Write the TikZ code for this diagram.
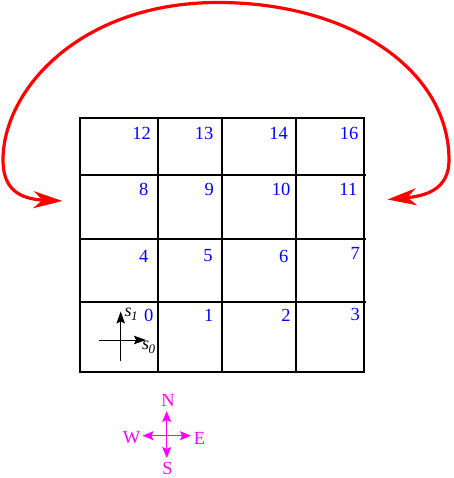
\documentclass[tikz,border=0pt]{standalone}
\usepackage{fontspec}
\setmainfont{Liberation Serif}
\usetikzlibrary{arrows.meta}
\definecolor{numblue}{RGB}{0,0,255}
\definecolor{wrapred}{RGB}{255,0,0}
\definecolor{compmag}{RGB}{255,0,255}
\newcommand{\svar}[1]{{\fontsize{18}{20}\selectfont\itshape s}\kern-0.5pt\raisebox{-4pt}{\fontsize{13}{15}\selectfont\itshape #1}}
\tikzset{
  gridline/.style={line width=2pt, black},
  num/.style={anchor=east, inner sep=0pt, text=numblue, font=\fontsize{18.5}{20}\selectfont},
  wrap/.style={line width=3.2pt, draw=wrapred, {Stealth[length=29pt,width=17pt,inset=9pt]}-{Stealth[length=29pt,width=17pt,inset=9pt]}},
  comp/.style={line width=1.2pt, draw=compmag, -{Stealth[length=11pt,width=9pt,inset=2pt]}},
  complabel/.style={inner sep=0pt, text=compmag, font=\fontsize{18.5}{20}\selectfont},
  axis/.style={line width=1pt, black, -{Stealth[length=12pt,width=8.5pt,inset=2pt]}},
  axlabel/.style={inner sep=0pt}
}
\begin{document}
\begin{tikzpicture}[x=1pt,y=-1pt]
\useasboundingbox (0,0) rectangle (453,478);
% grid
\draw[gridline] (80,118) rectangle (364,372);
\foreach \xx in {158,222,296} \draw[gridline] (\xx,118) -- (\xx,372);
\foreach \yy in {175,239,302} \draw[gridline] (80,\yy) -- (366,\yy);
% numbers
\node[num] (n12) at (151,133.5) {12};
\node[num] (n13) at (213.5,133.5) {13};
\node[num] (n14) at (288,133.5) {14};
\node[num] (n16) at (358.5,133.5) {16};
\node[num] (n8) at (148.5,189.5) {8};
\node[num] (n9) at (214,189.5) {9};
\node[num] (n10) at (290.5,189.5) {10};
\node[num] (n11) at (357.5,189.5) {11};
\node[num] (n4) at (148.5,256) {4};
\node[num] (n5) at (212.7,256) {5};
\node[num] (n6) at (288.5,256) {6};
\node[num] (n7) at (360,253.3) {7};
\node[num] (n0) at (153.5,315) {0};
\node[num] (n1) at (213.5,315) {1};
\node[num] (n2) at (290.7,315) {2};
\node[num] (n3) at (360,314) {3};
% local axes
\coordinate (ax0) at (120.7,340);
\coordinate (axL) at (99,340);
\coordinate (axR) at (146,340);
\coordinate (axB) at (120.7,361);
\coordinate (axT) at (120.7,311.5);
\draw[line width=1pt] (axL) -- (ax0);
\draw[axis] (ax0) -- (axR);
\draw[line width=1pt] (axB) -- (ax0);
\draw[axis] (ax0) -- (axT);
\node[axlabel] (s1) at (131,314) {\svar{1}};
\node[axlabel] (s0) at (148.5,347) {\svar{0}};
% wrap-around arrow
\coordinate (wl) at (62.5,201);
\coordinate (wr) at (387.5,199.5);
\draw[wrap] (wl) .. controls (18,199) and (3,188) .. (3,160)
  .. controls (3,90) and (80,2.5) .. (218,2.5)
  .. controls (350,2.5) and (449,70) .. (449,160)
  .. controls (449,190) and (425,196) .. (wr);
% compass
\coordinate (cc) at (166.7,435.7);
\coordinate (cN) at (166.7,411);
\coordinate (cS) at (166.7,458);
\coordinate (cW) at (142.5,435.7);
\coordinate (cE) at (191,435.7);
\draw[comp] (cc) -- (cN);
\draw[comp] (cc) -- (cS);
\draw[comp] (cc) -- (cW);
\draw[comp] (cc) -- (cE);
\node[complabel] (lN) at (168,400) {N};
\node[complabel] (lS) at (167.5,468.5) {S};
\node[complabel] (lW) at (131.5,437.7) {W};
\node[complabel] (lE) at (199.5,438) {E};
\end{tikzpicture}
\end{document}
